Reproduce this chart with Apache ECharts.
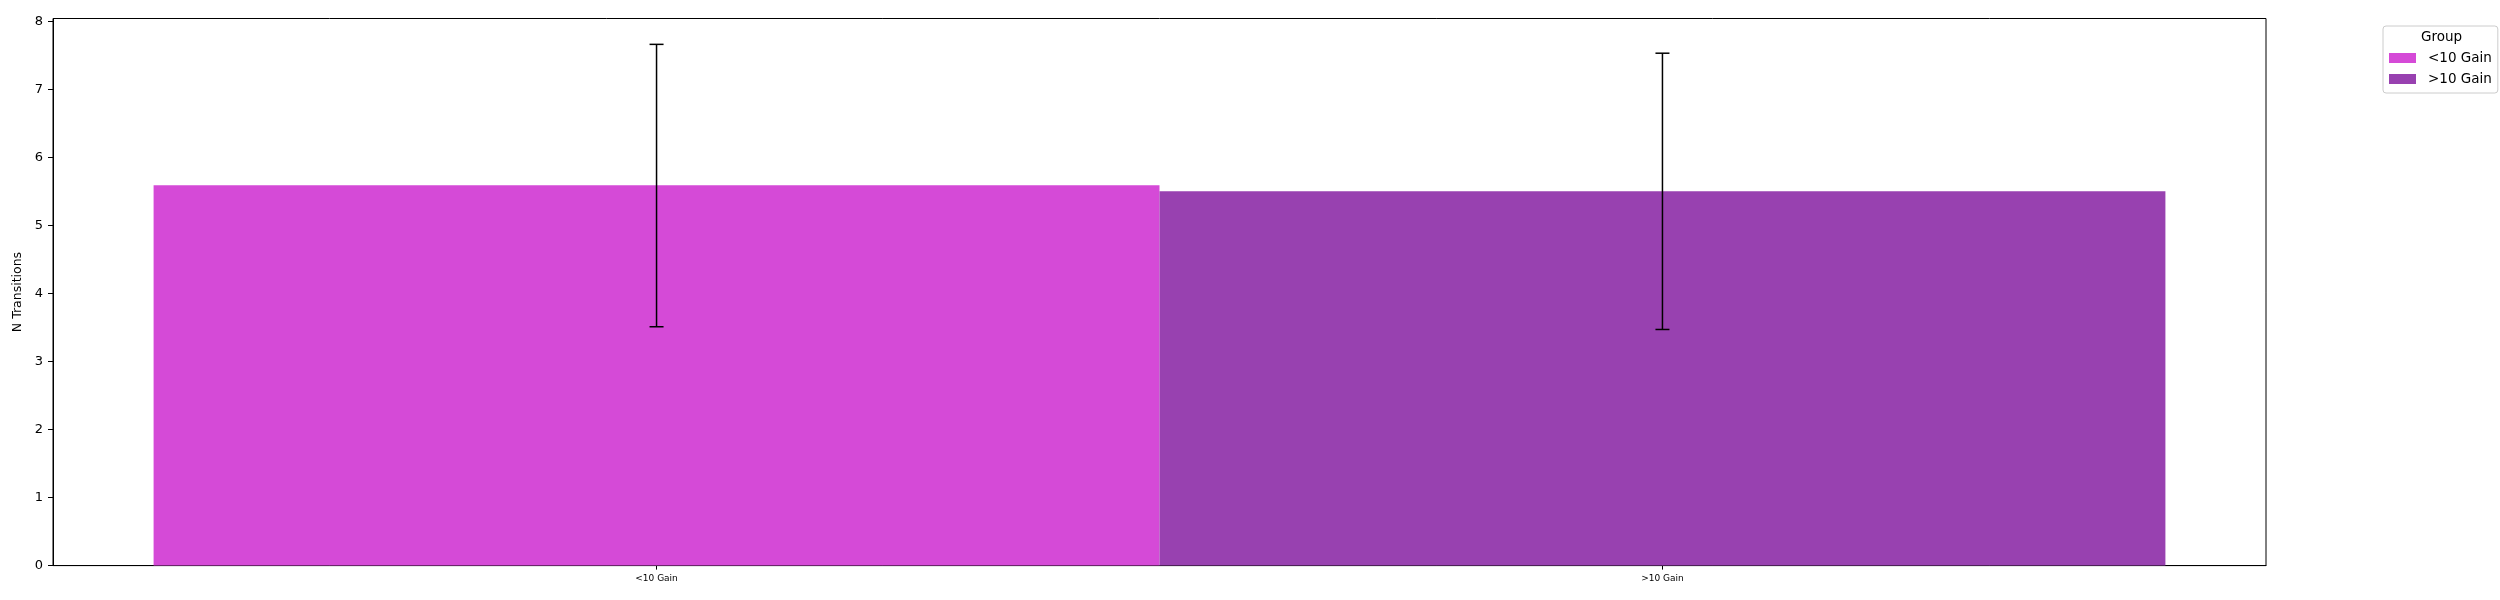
<!DOCTYPE html>
<html>
<head>
<meta charset="utf-8">
<script src="https://cdn.jsdelivr.net/npm/echarts@6/dist/echarts.min.js"></script>
<style>html,body{margin:0;padding:0;background:#fff}#c{width:2500px;height:600px}</style>
</head>
<body>
<div id="c"></div>
<script>
const categories = ['<10 Gain', '>10 Gain'];
const means = [5.59, 5.50];
const errLow = [3.51, 3.47];
const errHigh = [7.66, 7.53];
const colors = ['#D54AD7', '#9841B0'];
const yTicks = [0, 1, 2, 3, 4, 5, 6, 7, 8];
const legendTitle = 'Group';
const yName = 'N Transitions';

const font = 'DejaVu Sans';
const chart = echarts.init(document.getElementById('c'), null, {renderer: 'canvas'});

const barSeries = categories.map((name, i) => ({
  name: name,
  type: 'custom',
  itemStyle: {color: colors[i]},
  data: [[i, means[i]]],
  renderItem: function (params, api) {
    const x = api.value(0), y = api.value(1);
    const p1 = api.coord([x - 0.5, y]);
    const p2 = api.coord([x + 0.5, 0]);
    return {type: 'rect', shape: {x: p1[0], y: p1[1], width: p2[0] - p1[0], height: p2[1] - p1[1]},
      style: {fill: colors[i]}};
  },
  z: 2
}));

const errSeries = {
  name: 'err',
  type: 'custom',
  data: categories.map((c, i) => [i, errLow[i], errHigh[i]]),
  renderItem: function (params, api) {
    const x = api.value(0);
    const lo = api.coord([x, api.value(1)]);
    const hi = api.coord([x, api.value(2)]);
    const cw = 7;
    const st = {stroke: '#000', lineWidth: 1.5};
    return {type: 'group', children: [
      {type: 'line', shape: {x1: lo[0], y1: lo[1], x2: hi[0], y2: hi[1]}, style: st},
      {type: 'line', shape: {x1: lo[0] - cw, y1: lo[1], x2: lo[0] + cw, y2: lo[1]}, style: st},
      {type: 'line', shape: {x1: hi[0] - cw, y1: hi[1], x2: hi[0] + cw, y2: hi[1]}, style: st}
    ]};
  },
  z: 5
};

chart.setOption({
  animation: false,
  backgroundColor: '#fff',
  grid: {left: 53, right: 234, top: 18.5, bottom: 34.4, show: true, borderColor: '#000', borderWidth: 1, containLabel: false},
  xAxis: {
    type: 'value', min: -0.6, max: 1.6,
    axisLine: {show: true, onZero: false, lineStyle: {color: '#000', width: 1}},
    axisTick: {show: true, length: 4, customValues: [0, 1], lineStyle: {color: '#000'}},
    axisLabel: {customValues: [0, 1], formatter: v => categories[Math.round(v)] || '', color: '#000', fontFamily: font, fontSize: 9, margin: 9},
    splitLine: {show: false}
  },
  yAxis: {
    type: 'value', min: 0, max: 8.04, interval: 1,
    name: yName, nameLocation: 'middle', nameGap: 19, nameRotate: 90,
    nameTextStyle: {color: '#000', fontFamily: font, fontSize: 12.5},
    axisLine: {show: true, onZero: false, lineStyle: {color: '#000', width: 1}},
    axisTick: {show: true, length: 5, customValues: yTicks, lineStyle: {color: '#000'}},
    axisLabel: {customValues: yTicks, color: '#000', fontFamily: font, fontSize: 13, margin: 10},
    splitLine: {show: false}
  },
  legend: {
    data: categories,
    orient: 'vertical',
    left: 2383, top: 26,
    width: 104,
    padding: [25, 6, 7, 6],
    itemWidth: 27, itemHeight: 10, itemGap: 7,
    icon: 'rect',
    borderColor: '#ccc', borderWidth: 1, borderRadius: 3,
    backgroundColor: '#fff',
    textStyle: {color: '#000', fontFamily: font, fontSize: 13.5, padding: [0, 0, 0, 7]}
  },
  graphic: [{
    type: 'text', left: 2441 - 20, top: 30,
    style: {text: legendTitle, fill: '#000', font: '13.5px "DejaVu Sans"', textAlign: 'center'},
    z: 100
  }],
  series: [...barSeries, errSeries]
});
</script>
</body>
</html>
